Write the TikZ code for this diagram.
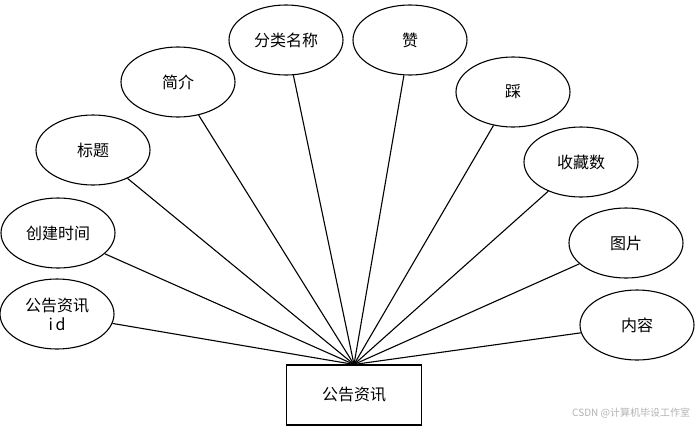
\documentclass[tikz,border=0pt]{standalone}
\usepackage{fontspec}
\newfontfamily\cjk{Noto Sans CJK SC}
\usetikzlibrary{shapes.geometric}

\begin{document}
\begin{tikzpicture}[x=1pt,y=-1pt,line width=1.1pt,
   every node/.style={font=\cjk\fontsize{16}{19}\selectfont},
   attr/.style={draw,ellipse,minimum width=114pt,minimum height=70pt,inner sep=1pt,align=center},
   entity/.style={draw,rectangle,minimum width=135pt,minimum height=60pt}]
  \useasboundingbox (0,0) rectangle (696,429);
  % entity
  \node[entity] (news) at (354,395) {公告资讯};
  % attributes
  \node[attr] (nid) at (57,314) {公告资讯\\i\,d};
  \node[attr] (ctime) at (58,233) {创建时间};
  \node[attr] (title) at (93,150) {标题};
  \node[attr] (intro) at (178,82) {简介};
  \node[attr] (cname) at (286,40) {分类名称};
  \node[attr] (zan) at (410,40) {赞};
  \node[attr] (cai) at (513,92) {踩};
  \node[attr] (fav) at (581,162) {收藏数};
  \node[attr] (pic) at (626,243) {图片};
  \node[attr] (txt) at (637,325) {内容};
  \foreach \a in {nid,ctime,title,intro,cname,zan,cai,fav,pic,txt}
    \draw (\a) -- (news.north);
  % watermark
  \node[text=black!30,font=\cjk\fontsize{10}{12}\selectfont,anchor=east] (wm) at (694,413) {CSDN @计算机毕设工作室};
\end{tikzpicture}
\end{document}
